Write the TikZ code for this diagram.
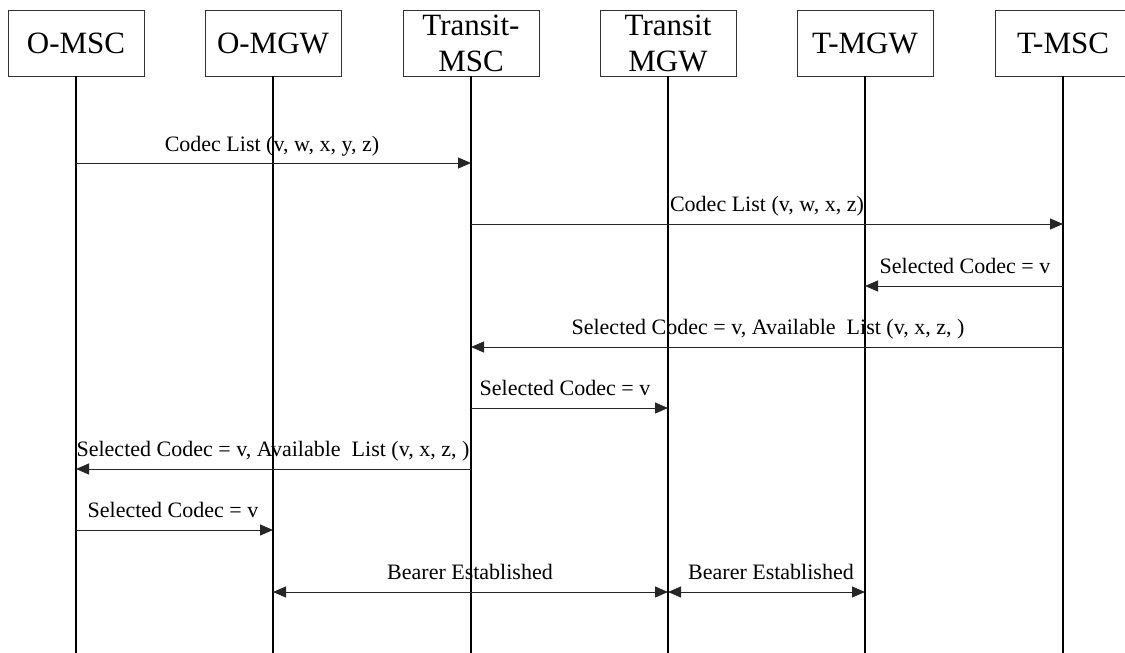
\documentclass[tikz,border=0pt]{standalone}
\usepackage{fontspec}
\setmainfont{Liberation Serif}
\usetikzlibrary{arrows.meta}
\begin{document}
\begin{tikzpicture}[x=1pt,y=-1pt,
  entity/.style={draw=black!80,line width=0.9pt,minimum width=136pt,minimum height=66pt,inner sep=0pt,align=center,font=\fontsize{31}{36}\selectfont},
  life/.style={line width=2pt},
  msg/.style={line width=1pt,draw=black!85,-{Triangle[length=13pt,width=11pt]}},
  both/.style={line width=1pt,draw=black!85,{Triangle[length=13pt,width=11pt]}-{Triangle[length=13pt,width=11pt]}},
  lbl/.style={anchor=base,inner sep=0pt,font=\fontsize{22}{26}\selectfont}]
\useasboundingbox (0,0) rectangle (1125,653);
\node[entity] (omsc) at (76,43) {O-MSC};
\node[entity] (omgw) at (273,43) {O-MGW};
\node[entity] (trmsc) at (471,43) {Transit-\\MSC};
\node[entity] (trmgw) at (668,43) {Transit\\MGW};
\node[entity] (tmgw) at (865,43) {T-MGW};
\node[entity] (tmsc) at (1063,43) {T-MSC};
\coordinate (bot) at (0,653);
\foreach \n in {omsc,omgw,trmsc,trmgw,tmgw,tmsc}{
  \draw[life] (\n.south) -- (\n |- bot);
}
\coordinate (r1) at (0,163);
\coordinate (r2) at (0,224);
\coordinate (r3) at (0,286);
\coordinate (r4) at (0,347);
\coordinate (r5) at (0,408);
\coordinate (r6) at (0,469);
\coordinate (r7) at (0,530);
\coordinate (r8) at (0,592);
\draw[msg] (omsc |- r1) -- (trmsc |- r1);
\node[lbl] (l1) at (272,151) {Codec List (v, w, x, y, z)};
\draw[msg] (trmsc |- r2) -- (tmsc |- r2);
\node[lbl] (l2) at (767,211) {Codec List (v, w, x, z)};
\draw[msg] (tmsc |- r3) -- (tmgw |- r3);
\node[lbl] (l3) at (965,273) {Selected Codec = v};
\draw[msg] (tmsc |- r4) -- (trmsc |- r4);
\node[lbl] (l4) at (768,334) {Selected Codec = v, Available\ \ List (v, x, z, )};
\draw[msg] (trmsc |- r5) -- (trmgw |- r5);
\node[lbl] (l5) at (565,395) {Selected Codec = v};
\draw[msg] (trmsc |- r6) -- (omsc |- r6);
\node[lbl] (l6) at (273,456) {Selected Codec = v, Available\ \ List (v, x, z, )};
\draw[msg] (omsc |- r7) -- (omgw |- r7);
\node[lbl] (l7) at (173,517) {Selected Codec = v};
\draw[both] (omgw |- r8) -- (trmgw |- r8);
\node[lbl] (l8) at (470,579) {Bearer Established};
\draw[both] (trmgw |- r8) -- (tmgw |- r8);
\node[lbl] (l9) at (771,579) {Bearer Established};
\end{tikzpicture}
\end{document}
